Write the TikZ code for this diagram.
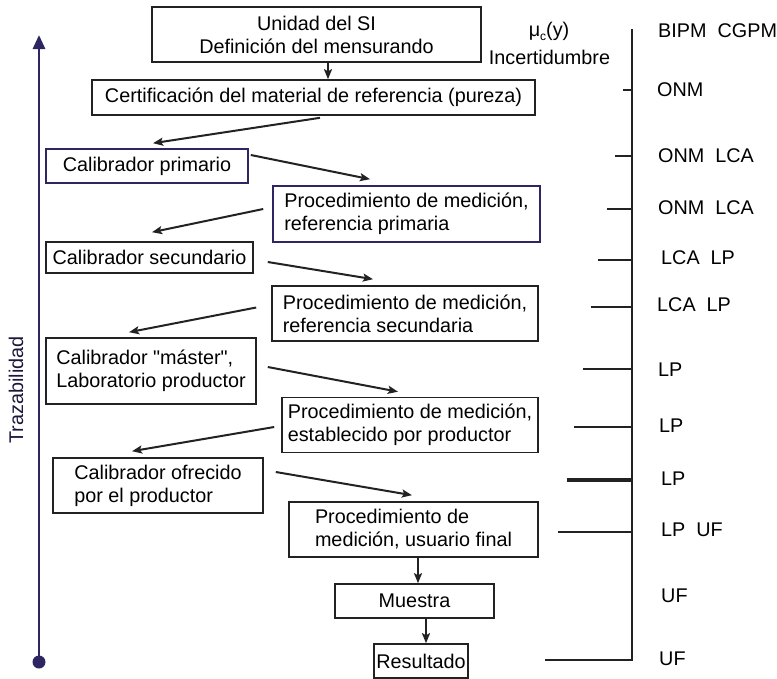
\documentclass[tikz,border=0pt]{standalone}
\usepackage{fontspec}
\setmainfont[Ligatures=TeXOff]{Liberation Sans}
\usetikzlibrary{arrows.meta}
\definecolor{navy}{RGB}{45,38,98}
\definecolor{ink}{RGB}{34,34,34}
\begin{document}
\begin{tikzpicture}[x=1pt,y=-1pt,
  every node/.style={font=\fontsize{19.8pt}{23pt}\selectfont, text=black},
  box/.style={draw=ink, line width=1.6pt, inner sep=0pt, align=center},
  lbox/.style={box, align=left},
  navybox/.style={draw=navy},
  flow/.style={draw=ink, line width=2pt, -{Stealth[length=10pt,width=8pt,inset=2pt]}},
  axisline/.style={draw=ink, line width=2.2pt},
  lab/.style={anchor=west, inner sep=0pt}]
\useasboundingbox (0,0) rectangle (777,678);

% boxes
\node[box, minimum width=329pt, minimum height=55pt] (unidad) at (316.5,34.5) {Unidad del SI\\Definición del mensurando};
\node[box, minimum width=443pt, minimum height=35pt] (cert) at (313.5,97.5) {Certificación del material de referencia (pureza)};
\node[box, navybox, minimum width=202pt, minimum height=34pt] (calp) at (147,166) {Calibrador primario};
\node[lbox, navybox, minimum width=267pt, minimum height=56pt] (procp) at (406.5,214) {Procedimiento de medición,\\referencia primaria};
\node[box, minimum width=207pt, minimum height=31pt] (cals) at (149.5,257.5) {Calibrador secundario};
\node[lbox, minimum width=266pt, minimum height=55pt] (procs) at (405,313.5) {Procedimiento de medición,\\referencia secundaria};
\node[lbox, minimum width=210pt, minimum height=66pt] (calm) at (151,371) {Calibrador "máster",\\Laboratorio productor};
\node[lbox, minimum width=256pt, minimum height=55pt] (procprod) at (410,425) {Procedimiento de medición,\\establecido por productor};
\node[lbox, minimum width=210pt, minimum height=55pt] (calo) at (158,485.5) {Calibrador ofrecido\\por el productor};
\node[lbox, minimum width=249pt, minimum height=55pt] (procf) at (413.5,529.5) {Procedimiento de\\medición, usuario final};
\node[box, minimum width=159pt, minimum height=34pt] (muestra) at (414.5,601) {Muestra};
\node[box, minimum width=94pt, minimum height=34pt] (result) at (421,661) {Resultado};

% flow arrows
\draw[flow] ([xshift=11.5pt]unidad.south) -- ([xshift=14.5pt]cert.north);
\draw[flow] ([xshift=6.5pt,yshift=-2pt]cert.south) -- ([xshift=6pt,yshift=5pt]calp.north);
\draw[flow] ([xshift=2pt,yshift=11pt]calp.east) -- ([xshift=-36.5pt,yshift=6pt]procp.north);
\draw[flow] ([xshift=-9pt,yshift=5pt]procp.west) -- ([xshift=2.5pt,yshift=9pt]cals.north);
\draw[flow] ([xshift=14pt,yshift=-4.5pt]cals.east) -- ([xshift=-32pt,yshift=6pt]procs.north);
\draw[flow] ([xshift=-15pt,yshift=6pt]procs.west) -- ([xshift=-22pt,yshift=5pt]calm.north);
\draw[flow] ([xshift=11pt,yshift=4pt]calm.east) -- ([xshift=-12pt,yshift=5pt]procprod.north);
\draw[flow] ([xshift=-7pt,yshift=-2pt]procprod.west) -- ([xshift=-26pt,yshift=6pt]calo.north);
\draw[flow] ([xshift=12pt,yshift=13.5pt]calo.east) -- ([xshift=-1.5pt,yshift=6pt]procf.north);
\draw[flow] ([xshift=4.5pt]procf.south) -- ([xshift=3.5pt]muestra.north);
\draw[flow] ([xshift=11.5pt]muestra.south) -- ([xshift=5pt]result.north);

% traceability axis
\coordinate (tbot) at (39,662);
\coordinate (ttop) at (39,35);
\draw[navy, line width=2.8pt, -{Triangle[length=14pt,width=12pt]}] (tbot) -- (ttop);
\fill[navy] (tbot) circle (6.5pt);
\node[rotate=90, text=navy!60!black] (traz) at (16,390) {Trazabilidad};

% uncertainty header
\node[inner sep=0pt] (mu) at (549,31) {μ\raisebox{-4pt}{\fontsize{12pt}{12pt}\selectfont c}(y)};
\node[inner sep=0pt] (inc) at (549.5,57) {Incertidumbre};

% right axis
\coordinate (rtop) at (632,29);
\coordinate (rbot) at (632,660);
\coordinate (rend) at (545,660);
\draw[axisline] (rtop) -- (rbot) -- (rend);
\foreach \yy/\xx in {90/623,156/615,209/607,260/598,307/591,369/583,427/574,532/558}
  \draw[axisline] (632,\yy) -- (\xx,\yy);
\draw[draw=ink, line width=3.8pt] (632,480) -- (567,480);

% right labels
\node[lab] (l1) at (658,31) {BIPM\ \ CGPM};
\node[lab] (l2) at (657,90) {ONM};
\node[lab] (l3) at (658,156) {ONM\ \ LCA};
\node[lab] (l4) at (658,208) {ONM\ \ LCA};
\node[lab] (l5) at (661,258) {LCA\ \ LP};
\node[lab] (l6) at (657,305) {LCA\ \ LP};
\node[lab] (l7) at (658,370) {LP};
\node[lab] (l8) at (659,426) {LP};
\node[lab] (l9) at (661,479) {LP};
\node[lab] (l10) at (661,530) {LP\ \ UF};
\node[lab] (l11) at (661,596) {UF};
\node[lab] (l12) at (659,659) {UF};
\end{tikzpicture}
\end{document}
